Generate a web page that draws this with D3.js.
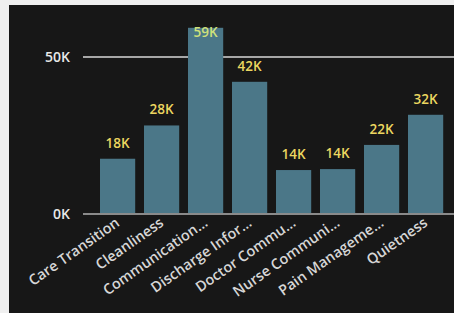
<!DOCTYPE html>
<html>
<head>
<meta charset="utf-8">
<script src="https://cdn.jsdelivr.net/npm/d3@7"></script>
<style>
  html, body { margin: 0; padding: 0; background: #f0f0f0; }
  svg { display: block; }
  text { font-family: "Open Sans", "Noto Sans", sans-serif; }
</style>
</head>
<body>
<svg id="chart" width="454" height="313"></svg>
<script>
// survey topics shown on the x axis (already truncated like the original)
const categories = [
  'Care Transition', 'Cleanliness', 'Communication…', 'Discharge Infor…',
  'Doctor Commu…', 'Nurse Communi…', 'Pain Manageme…', 'Quietness'
];
// responses per topic
const values = [17600, 28200, 59300, 42100, 14000, 14300, 22000, 31600];
const yTicks = [0, 50000];

const svg = d3.select('#chart');

// dark report panel
svg.append('rect')
  .attr('x', 9).attr('y', 5)
  .attr('width', 454 - 9).attr('height', 313 - 5)
  .attr('fill', '#171717');

const x = d3.scaleBand()
  .domain(categories)
  .range([95.6, 447.6])
  .paddingInner(0.2)
  .paddingOuter(0.1);

const y = d3.scaleLinear()
  .domain([0, 50000])
  .range([214, 57]);

const fmtK = v => Math.round(v / 1000) + 'K';

// gridline at 50K (bars drawn over it)
svg.append('g')
  .selectAll('line')
  .data(yTicks.filter(t => t > 0))
  .enter()
  .append('line')
  .attr('x1', 83).attr('x2', 454)
  .attr('y1', d => y(d)).attr('y2', d => y(d))
  .attr('stroke', '#d9d9d9')
  .attr('stroke-width', 1.5);

// baseline
svg.append('line')
  .attr('x1', 83).attr('x2', 454)
  .attr('y1', y(0)).attr('y2', y(0))
  .attr('stroke', '#8a8a8a')
  .attr('stroke-width', 2);

// y tick labels
svg.append('g')
  .selectAll('text')
  .data(yTicks)
  .enter()
  .append('text')
  .attr('x', 70)
  .attr('y', d => y(d))
  .attr('dy', '0.36em')
  .attr('text-anchor', 'end')
  .attr('fill', '#e8e8e8')
  .attr('font-size', 14)
  .attr('font-weight', 600)
  .text(fmtK);

const data = categories.map((c, i) => ({ c, v: values[i] }));

// bars
svg.append('g')
  .selectAll('rect')
  .data(data)
  .enter()
  .append('rect')
  .attr('x', d => x(d.c))
  .attr('width', x.bandwidth())
  .attr('y', d => y(d.v))
  .attr('height', d => y(0) - y(d.v) - 1)
  .attr('fill', '#4b7788');

// value labels, clamped to the top of the plot
svg.append('g')
  .selectAll('text')
  .data(data)
  .enter()
  .append('text')
  .attr('x', d => x(d.c) + x.bandwidth() / 2)
  .attr('y', d => Math.max(y(d.v) - 11, 37))
  .attr('text-anchor', 'middle')
  .attr('fill', d => y(d.v) - 11 < 37 ? '#cfe07a' : '#ecd660')
  .attr('font-size', 13.5)
  .attr('font-weight', 600)
  .text(d => fmtK(d.v));

// rotated category labels
svg.append('g')
  .selectAll('text')
  .data(categories)
  .enter()
  .append('text')
  .attr('transform', d => `translate(${x(d) + x.bandwidth() / 2 + 3},${225}) rotate(-35)`)
  .attr('text-anchor', 'end')
  .attr('fill', '#d6d6d6')
  .attr('font-size', 14.5)
  .attr('font-weight', 600)
  .text(d => d);
</script>
</body>
</html>
